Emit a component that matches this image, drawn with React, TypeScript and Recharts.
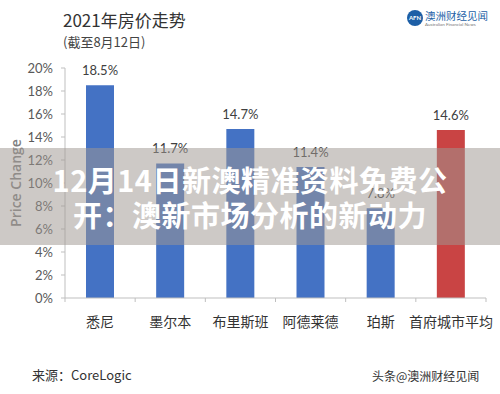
import React from 'react';
import { BarChart, Bar, XAxis, YAxis, Cell, LabelList } from 'recharts';

const cities = ['悉尼', '墨尔本', '布里斯班', '阿德莱德', '珀斯', '首府城市平均'];
const priceChange = [18.5, 11.7, 14.7, 11.4, 7.8, 14.6];
const yTicks = [0, 2, 4, 6, 8, 10, 12, 14, 16, 18, 20];

const data = cities.map((city, i) => ({ city, value: priceChange[i] }));

const BLUE = '#4472c4';
const RED = '#c94444';
const AXIS = '#bfbfbf';
const CJK = '"Noto Sans CJK SC", "Noto Sans", sans-serif';

const CategoryTick = (props: any) => {
  const { x, y, payload, width, visibleTicksCount, index } = props;
  const band = width / visibleTicksCount;
  const axisY = y - 8;
  const isLast = index === visibleTicksCount - 1;
  return (
    <g>
      <line x1={x - band / 2} x2={x - band / 2} y1={axisY} y2={axisY + 4} stroke={AXIS} />
      {isLast && <line x1={x + band / 2} x2={x + band / 2} y1={axisY} y2={axisY + 4} stroke={AXIS} />}
      <text x={x} y={axisY + 23} textAnchor="middle" dominantBaseline="central" fontSize={14} fill="#333" fontFamily={CJK}>
        {payload.value}
      </text>
    </g>
  );
};

export default function App() {
  return (
    <div style={{ position: 'absolute', left: 0, top: 0, width: 500, height: 394, background: '#fff', overflow: 'hidden', fontFamily: CJK }}>
      <BarChart width={500} height={394} data={data} margin={{ top: 68, right: 14, bottom: 66, left: 0 }}>
        <XAxis
          dataKey="city"
          height={30}
          axisLine={{ stroke: AXIS }}
          tickLine={false}
          interval={0}
          tick={<CategoryTick />}
        />
        <YAxis
          width={65}
          domain={[0, 20]}
          ticks={yTicks}
          interval={0}
          tickFormatter={(v: number) => `${v}%`}
          axisLine={{ stroke: AXIS }}
          tickLine={{ stroke: AXIS }}
          tickSize={4}
          tickMargin={8}
          tick={{ fontSize: 13, fill: '#595959', fontFamily: 'Lato, sans-serif' }}
        />
        <Bar dataKey="value" barSize={28} isAnimationActive={false}>
          {data.map((d, i) => (
            <Cell key={d.city} fill={i === data.length - 1 ? RED : BLUE} />
          ))}
          <LabelList
            dataKey="value"
            position="top"
            offset={10}
            formatter={(v: any) => `${v}%`}
            style={{ fontSize: 13, fill: '#404040', fontFamily: 'Lato, sans-serif' }}
          />
        </Bar>
      </BarChart>

      <div style={{ position: 'absolute', left: 63, top: 10, fontSize: 17, lineHeight: '20px', color: '#333' }}>2021年房价走势</div>
      <div style={{ position: 'absolute', left: 63, top: 34, fontSize: 13, lineHeight: '16px', color: '#444' }}>(截至8月12日)</div>

      <div style={{ position: 'absolute', left: 407, top: 10, width: 16, height: 16, borderRadius: 8, background: '#1d5fa6', color: '#fff', fontSize: 6, lineHeight: '16px', textAlign: 'center', fontFamily: 'Lato, sans-serif', fontWeight: 700 }}>AFN</div>
      <div style={{ position: 'absolute', left: 425, top: 9, fontSize: 10.5, lineHeight: '13px', color: '#1d5fa6' }}>澳洲财经见闻</div>
      <div style={{ position: 'absolute', left: 425, top: 22, fontSize: 4.5, lineHeight: '6px', color: '#777', fontFamily: 'Lato, sans-serif', whiteSpace: 'nowrap' }}>Australian Financial News</div>

      <div style={{ position: 'absolute', left: 2, top: 183, width: 26, transform: 'translate(0, -50%) rotate(-90deg)', transformOrigin: 'center', textAlign: 'center', whiteSpace: 'nowrap', fontSize: 14, fontWeight: 600, color: '#7f7f7f', fontFamily: '"Open Sans", sans-serif', display: 'flex', justifyContent: 'center' }}>
        <span>Price Change</span>
      </div>

      <div style={{ position: 'absolute', left: 32, top: 367, fontSize: 13, lineHeight: '16px', color: '#333' }}>来源：CoreLogic</div>
      <div style={{ position: 'absolute', left: 372, top: 368, fontSize: 12, lineHeight: '15px', color: '#333', whiteSpace: 'nowrap' }}>头条@澳洲财经见闻</div>

      <div style={{ position: 'absolute', left: 0, top: 148, width: 500, height: 97, background: 'rgba(160,152,145,0.52)' }}>
        <div style={{ position: 'absolute', left: 0, top: 14, width: 500, textAlign: 'center', fontSize: 29, lineHeight: '35px', fontWeight: 700, color: '#fff', letterSpacing: 0.5, whiteSpace: 'nowrap' }}>
          12月14日新澳精准资料免费公
        </div>
        <div style={{ position: 'absolute', left: 0, top: 49, width: 500, textAlign: 'center', fontSize: 29, lineHeight: '35px', fontWeight: 700, color: '#fff', letterSpacing: 0.5, whiteSpace: 'nowrap' }}>
          开：澳新市场分析的新动力
        </div>
      </div>
    </div>
  );
}
